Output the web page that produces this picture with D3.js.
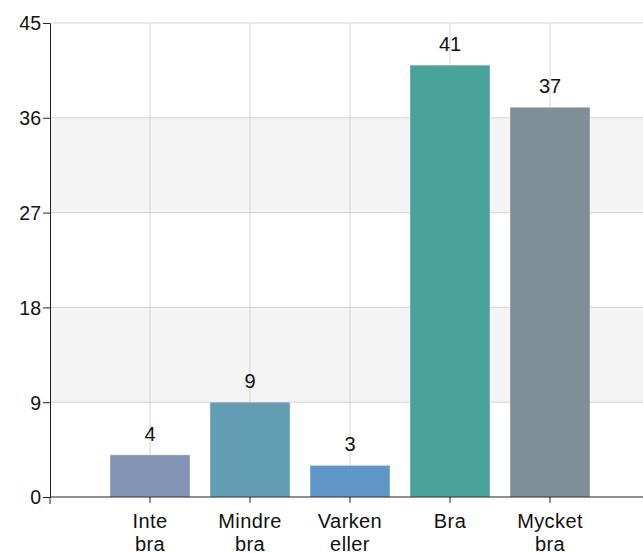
<!DOCTYPE html>
<html>
<head>
<meta charset="utf-8">
<script src="https://cdn.jsdelivr.net/npm/d3@7"></script>
<style>
  body { margin: 0; background: #fff; }
  text { font-family: "Liberation Sans", Arial, sans-serif; fill: #111; }
</style>
</head>
<body>
<svg width="643" height="553"></svg>
<script>
// data
const categories = [["Inte", "bra"], ["Mindre", "bra"], ["Varken", "eller"], ["Bra"], ["Mycket", "bra"]];
const values = [4, 9, 3, 41, 37];
const colors = ["#8494b4", "#639db4", "#5f98c8", "#4aa39b", "#7f8f98"];
const yTicks = [0, 9, 18, 27, 36, 45];

const svg = d3.select("svg"),
  margin = {top: 23, right: 0, bottom: 56, left: 50},
  width = +svg.attr("width") - margin.left - margin.right,
  height = +svg.attr("height") - margin.top - margin.bottom;

const g = svg.append("g")
  .attr("transform", `translate(${margin.left},${margin.top})`);

const keys = categories.map(c => c.join(" "));

// escalas
const x = d3.scaleBand()
  .domain(keys)
  .range([50, 550]) // centros en 150..550
  .paddingInner(0.2)
  .paddingOuter(0.1);

const y = d3.scaleLinear()
  .domain([0, 45])
  .range([height, 0]);

// bandas grises alternas
g.selectAll(".banda")
  .data([[9, 18], [27, 36]])
  .enter().append("rect")
  .attr("x", 0)
  .attr("width", width)
  .attr("y", d => y(d[1]))
  .attr("height", d => y(d[0]) - y(d[1]))
  .attr("fill", "#f4f4f4");

// grilla horizontal
g.selectAll(".hgrid")
  .data(yTicks.slice(1))
  .enter().append("line")
  .attr("x1", 0).attr("x2", width)
  .attr("y1", d => y(d)).attr("y2", d => y(d))
  .attr("stroke", "#d3d3d3");

// grilla vertical
g.selectAll(".vgrid")
  .data(keys)
  .enter().append("line")
  .attr("x1", d => x(d) + x.bandwidth() / 2)
  .attr("x2", d => x(d) + x.bandwidth() / 2)
  .attr("y1", 0).attr("y2", height)
  .attr("stroke", "#d3d3d3");

// barras
g.selectAll(".bar")
  .data(values)
  .enter().append("rect")
  .attr("x", (d, i) => x(keys[i]))
  .attr("width", x.bandwidth())
  .attr("y", d => y(d))
  .attr("height", d => height - y(d))
  .attr("fill", (d, i) => colors[i])
  .attr("stroke", "#ffffff")
  .attr("stroke-opacity", 0.35)
  .attr("stroke-width", 1);

// etiquetas de valor
g.selectAll(".valor")
  .data(values)
  .enter().append("text")
  .attr("x", (d, i) => x(keys[i]) + x.bandwidth() / 2)
  .attr("y", d => y(d) - 14)
  .attr("text-anchor", "middle")
  .style("font-size", "20px")
  .text(d => d);

// eje Y
const yAxis = g.append("g")
  .call(d3.axisLeft(y).tickValues(yTicks).tickSize(7).tickSizeOuter(0));
yAxis.select(".domain").attr("stroke", "#222");
yAxis.selectAll(".tick line").attr("stroke", "#222");
yAxis.selectAll("text")
  .attr("x", -9)
  .attr("dy", "0.35em")
  .attr("fill", "#111")
  .style("font-size", "19.5px")
  .style("font-family", "Liberation Sans, Arial, sans-serif");

// eje X
const xAxis = g.append("g")
  .attr("transform", `translate(0,${height})`)
  .call(d3.axisBottom(x).tickSize(6).tickSizeOuter(0).tickFormat(""));
xAxis.select(".domain").remove();
xAxis.selectAll(".tick line").attr("stroke", "#222");
g.append("line")
  .attr("x1", 0).attr("x2", width)
  .attr("y1", height).attr("y2", height)
  .attr("stroke", "#222");
g.append("line")
  .attr("x1", 0).attr("x2", 0)
  .attr("y1", height).attr("y2", height + 7)
  .attr("stroke", "#222");

// etiquetas de categoria (dos lineas)
const lab = g.selectAll(".cat")
  .data(categories)
  .enter().append("text")
  .attr("text-anchor", "middle")
  .style("font-size", "20px")
  .style("letter-spacing", "0.4px")
  .attr("transform", (d, i) => `translate(${x(keys[i]) + x.bandwidth() / 2},${height + 31})`);
lab.selectAll("tspan")
  .data(d => d)
  .enter().append("tspan")
  .attr("x", 0)
  .attr("y", (d, i) => i * 23)
  .text(d => d);
</script>
</body>
</html>
